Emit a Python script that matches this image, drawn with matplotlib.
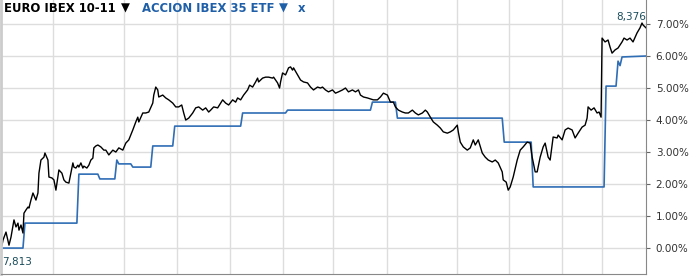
import matplotlib
matplotlib.use("Agg")
import matplotlib.pyplot as plt
import numpy as np

# Sesiones (eje x sin etiquetas) y rentabilidad acumulada en %
euro_x = [1, 2, 5, 8, 10, 13, 15, 17, 18, 20, 22, 23, 25, 27, 28, 30, 32, 35, 37, 38,
          40, 43, 44, 47, 48, 51, 53, 55, 57, 58, 61, 63, 65, 68, 70, 72, 73, 75, 77, 78,
          80, 82, 83, 86, 88, 90, 92, 93, 95, 97, 100, 103, 105, 108, 112, 115, 118, 122,
          125, 128, 132, 135, 137, 138, 142, 145, 148, 152, 153, 155, 157, 158, 162, 165,
          168, 172, 175, 178, 181, 183, 185, 188, 192, 195, 198, 202, 205, 208, 210, 213,
          217, 220, 222, 225, 228, 232, 235, 237, 240, 243, 247, 249, 252, 255, 257, 258,
          262, 265, 268, 272, 273, 277, 279, 280, 282, 285, 288, 290, 292, 293, 297, 300,
          303, 307, 310, 313, 317, 320, 322, 325, 328, 332, 335, 338, 342, 345, 348, 352,
          355, 358, 360, 363, 367, 370, 373, 377, 380, 383, 387, 390, 393, 395, 398, 402,
          405, 408, 412, 415, 418, 422, 425, 427, 430, 433, 437, 440, 443, 447, 450, 453,
          457, 458, 460, 463, 467, 470, 473, 475, 478, 482, 485, 488, 492, 495, 498, 502,
          503, 506, 508, 510, 513, 517, 520, 523, 527, 530, 532, 535, 537, 540, 543, 545,
          548, 550, 553, 557, 558, 562, 565, 568, 572, 575, 578, 582, 585, 587, 588, 591,
          594, 597, 599, 601, 602, 605, 608, 610, 612, 615, 618, 622, 624, 627, 630, 633,
          637, 640, 642, 643, 646]
euro_y = [0.09, 0.25, 0.50, 0.09, 0.34, 0.88, 0.66, 0.78, 0.56, 0.72, 0.47, 1.09, 1.19, 1.28,
          1.25, 1.50, 1.72, 1.50, 1.72, 2.34, 2.75, 2.84, 2.97, 2.75, 2.22, 2.19, 2.13, 1.81,
          2.22, 2.44, 2.34, 2.13, 2.06, 2.03, 2.34, 2.66, 2.53, 2.50, 2.59, 2.53, 2.66, 2.50,
          2.56, 2.50, 2.59, 2.75, 2.81, 3.13, 3.19, 3.22, 3.16, 3.06, 3.06, 2.91, 3.06, 3.00,
          3.13, 3.06, 3.28, 3.38, 3.69, 3.94, 4.09, 3.94, 4.22, 4.22, 4.25, 4.53, 4.78, 5.03,
          4.94, 4.72, 4.78, 4.69, 4.63, 4.53, 4.41, 4.41, 4.47, 4.22, 4.00, 4.06, 4.22, 4.38,
          4.41, 4.31, 4.38, 4.25, 4.31, 4.41, 4.38, 4.53, 4.63, 4.53, 4.47, 4.63, 4.56, 4.69,
          4.63, 4.78, 4.94, 5.09, 5.03, 5.19, 5.31, 5.19, 5.31, 5.34, 5.34, 5.31, 5.34, 5.16,
          5.00, 5.19, 5.47, 5.41, 5.63, 5.66, 5.56, 5.63, 5.41, 5.25, 5.19, 5.16, 5.03, 4.94,
          5.03, 5.00, 5.03, 4.94, 4.88, 4.94, 4.84, 4.88, 4.94, 5.00, 4.88, 4.94, 4.88, 4.94,
          4.78, 4.72, 4.69, 4.66, 4.63, 4.63, 4.72, 4.84, 4.78, 4.56, 4.56, 4.41, 4.31, 4.25,
          4.22, 4.22, 4.31, 4.22, 4.16, 4.22, 4.31, 4.25, 4.09, 3.94, 3.84, 3.75, 3.63, 3.59,
          3.63, 3.69, 3.84, 3.63, 3.31, 3.16, 3.06, 3.13, 3.38, 3.22, 3.38, 2.97, 2.84, 2.75,
          2.69, 2.75, 2.66, 2.38, 2.13, 2.06, 1.81, 1.91, 2.22, 2.75, 3.06, 3.16, 3.31, 3.28,
          2.84, 2.38, 2.38, 2.84, 3.16, 3.28, 2.84, 2.75, 3.47, 3.44, 3.53, 3.38, 3.69, 3.75,
          3.69, 3.44, 3.59, 3.78, 3.84, 4.06, 4.41, 4.31, 4.38, 4.22, 4.25, 4.09, 6.56, 6.44,
          6.50, 6.28, 6.09, 6.19, 6.25, 6.44, 6.56, 6.50, 6.56, 6.44, 6.72, 6.88, 7.03, 6.97,
          6.88]

etf_x = [0, 22, 24, 76, 78, 97, 99, 114, 116, 118, 130, 132, 150, 152, 172, 174, 240, 242,
         285, 287, 370, 372, 395, 397, 502, 504, 531, 533, 604, 606, 616, 618, 620, 622, 646]
etf_y = [0.00, 0.00, 0.78, 0.78, 2.31, 2.31, 2.16, 2.16, 2.75, 2.63, 2.63, 2.53, 2.53, 3.19,
         3.19, 3.81, 3.81, 4.22, 4.22, 4.31, 4.31, 4.56, 4.56, 4.06, 4.06, 3.31, 3.31, 1.91,
         1.91, 5.06, 5.06, 5.84, 5.70, 5.97, 6.00]

month_lines = [52, 123, 176, 229, 282, 333, 387, 457, 509, 562, 602]
y_ticks = [0, 1, 2, 3, 4, 5, 6, 7]
precio_ini = "7,813"
precio_fin = "8,376"

W, H = 696, 277
fig = plt.figure(figsize=(W / 100, H / 100), dpi=100)
ax = fig.add_axes([1 / W, 3 / H, 645 / W, 274 / H])

ax.plot(etf_x, etf_y, color="#2f6db5", lw=1.2)
ax.plot(euro_x, euro_y, color="black", lw=1.0)

ax.set_xlim(0, 646)
ax.set_ylim(-0.81, 7.75)
ax.set_xticks(month_lines)
ax.set_xticklabels([])
ax.tick_params(axis="x", length=0)
ax.set_yticks(y_ticks)
ax.yaxis.tick_right()
ax.set_yticklabels(["%.2f%%" % v for v in y_ticks])
ax.tick_params(axis="y", length=3, width=0.8, color="#666666", pad=4,
               labelsize=7.5, labelcolor="#333333")
ax.grid(True, color="#dddddd", lw=1)
ax.set_axisbelow(True)

ax.spines["top"].set_visible(False)
ax.spines["left"].set_color("#cccccc")
ax.spines["left"].set_linewidth(2)
ax.spines["bottom"].set_color("#888888")
ax.spines["right"].set_color("#888888")

ax.text(646, 7.22, precio_fin, ha="right", va="center", fontsize=7.5, color="#1b4d5c")
ax.text(1, -0.45, precio_ini, ha="left", va="center", fontsize=7.5, color="#1b4d5c")

# cabecera: cada trozo a continuacion del anterior
fy = 1 - 8 / H
fs = 8.4
renderer = fig.canvas.get_renderer()
trozos = [("EURO IBEX 10-11", "bold", "black", 4),
          ("\u25bc", "normal", "black", 5),
          ("ACCION IBEX 35 ETF", "bold", "#1f5fa8", 12),
          ("\u25bc", "normal", "#1f5fa8", 5),
          ("x", "bold", "#1f5fa8", 10)]
xpix = 0
for txt, peso, col, hueco in trozos:
    xpix += hueco
    t = fig.text(xpix / W, fy, txt, fontsize=fs, fontweight=peso, color=col, va="center")
    xpix = t.get_window_extent(renderer).x1

fig.savefig("out.png", dpi=100)
